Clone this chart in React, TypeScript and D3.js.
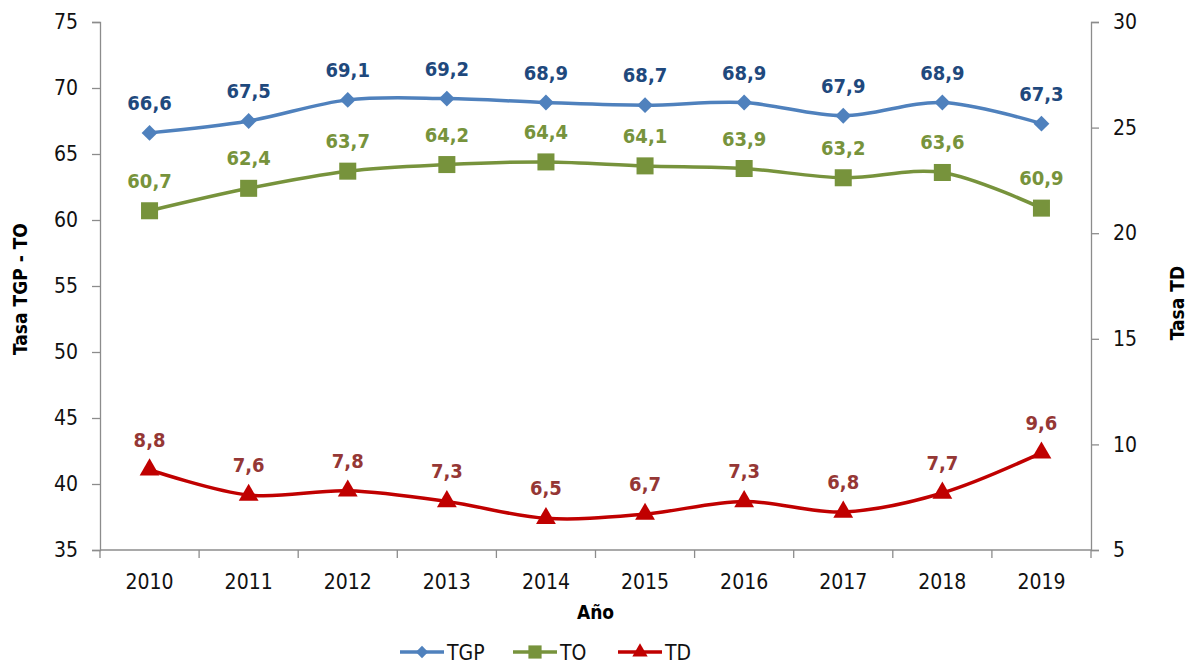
import React, { useEffect, useRef } from 'react';
import * as d3 from 'd3';

const years = ['2010', '2011', '2012', '2013', '2014', '2015', '2016', '2017', '2018', '2019'];
const tgp = [66.6, 67.5, 69.1, 69.2, 68.9, 68.7, 68.9, 67.9, 68.9, 67.3];
const to = [60.7, 62.4, 63.7, 64.2, 64.4, 64.1, 63.9, 63.2, 63.6, 60.9];
const td = [8.8, 7.6, 7.8, 7.3, 6.5, 6.7, 7.3, 6.8, 7.7, 9.6];
const leftTicks = [35, 40, 45, 50, 55, 60, 65, 70, 75];
const rightTicks = [5, 10, 15, 20, 25, 30];

const FONT = '"DejaVu Sans Condensed", "DejaVu Sans", sans-serif';

const App = () => {
    const ref = useRef<SVGSVGElement | null>(null);

    useEffect(() => {
        const svg = d3.select(ref.current);
        svg.selectAll('*').remove();

        const left = 100, right = 1091, top = 22, bottom = 550;

        const x = d3.scaleBand().domain(years).range([left, right]);
        const yL = d3.scaleLinear().domain([35, 75]).range([bottom, top]);
        const yR = d3.scaleLinear().domain([5, 30]).range([bottom, top]);
        const cx = (d: string) => (x(d) ?? 0) + x.bandwidth() / 2;

        const axisColor = '#8c8c8c';

        // left axis
        const gl = svg.append('g').attr('transform', `translate(${left},0)`)
            .call(d3.axisLeft(yL).tickValues(leftTicks).tickSize(8).tickPadding(14));
        // right axis
        const gr = svg.append('g').attr('transform', `translate(${right},0)`)
            .call(d3.axisRight(yR).tickValues(rightTicks).tickSize(8).tickPadding(14));
        // bottom axis: ticks at band boundaries
        const gb = svg.append('g').attr('transform', `translate(0,${bottom})`)
            .call(d3.axisBottom(x).tickSize(0).tickPadding(24));

        [gl, gr, gb].forEach(g => {
            g.select('.domain').attr('stroke', axisColor).attr('stroke-width', 1.3);
            g.selectAll('.tick line').attr('stroke', axisColor).attr('stroke-width', 1.3);
            g.selectAll('.tick text').attr('fill', '#111').attr('font-size', 21).attr('font-family', FONT);
        });
        gb.select('.domain').attr('d', `M${left},0H${right}`);

        const bounds = years.map(y => x(y) ?? 0).concat([right]);
        svg.append('g').selectAll('line').data(bounds).enter().append('line')
            .attr('x1', d => d).attr('x2', d => d)
            .attr('y1', bottom).attr('y2', bottom + 8)
            .attr('stroke', axisColor).attr('stroke-width', 1.3);

        // axis titles
        svg.append('text')
            .attr('transform', `translate(27,${(top + bottom) / 2 + 3}) rotate(-90)`)
            .attr('text-anchor', 'middle')
            .attr('font-family', FONT).attr('font-weight', 'bold').attr('font-size', 19)
            .text('Tasa TGP - TO');
        svg.append('text')
            .attr('transform', `translate(1184,${(top + bottom) / 2 + 17}) rotate(-90)`)
            .attr('text-anchor', 'middle')
            .attr('font-family', FONT).attr('font-weight', 'bold').attr('font-size', 19)
            .text('Tasa TD');
        svg.append('text')
            .attr('x', (left + right) / 2).attr('y', 619)
            .attr('text-anchor', 'middle')
            .attr('font-family', FONT).attr('font-weight', 'bold').attr('font-size', 19)
            .text('Año');

        const series = [
            { name: 'TGP', values: tgp, scale: yL, color: '#4F81BD', label: '#1F497D', symbol: d3.symbolDiamond2, size: 160 },
            { name: 'TO', values: to, scale: yL, color: '#77933C', label: '#77933C', symbol: d3.symbolSquare, size: 290 },
            { name: 'TD', values: td, scale: yR, color: '#C00000', label: '#953735', symbol: d3.symbolTriangle, size: 170 },
        ];

        series.forEach(s => {
            const line = d3.line<number>()
                .x((_, i) => cx(years[i]))
                .y(d => s.scale(d))
                .curve(d3.curveCatmullRom.alpha(0));
            svg.append('path')
                .attr('d', line(s.values) ?? '')
                .attr('fill', 'none')
                .attr('stroke', s.color)
                .attr('stroke-width', 3.5);

            const sym = d3.symbol().type(s.symbol).size(s.size);
            svg.append('g').selectAll('path').data(s.values).enter().append('path')
                .attr('transform', (d, i) => `translate(${cx(years[i])},${s.scale(d)})`)
                .attr('d', sym() ?? '')
                .attr('fill', s.color);

            svg.append('g').selectAll('text').data(s.values).enter().append('text')
                .attr('x', (_, i) => cx(years[i]))
                .attr('y', d => s.scale(d) - 23)
                .attr('text-anchor', 'middle')
                .attr('font-family', FONT).attr('font-weight', 'bold').attr('font-size', 20)
                .attr('fill', s.label)
                .text(d => d.toFixed(1).replace('.', ','));
        });

        // legend
        const legendX = [400, 513, 618];
        const lg = svg.append('g');
        series.forEach((s, i) => {
            const g = lg.append('g').attr('transform', `translate(${legendX[i]},652)`);
            g.append('line').attr('x1', 0).attr('x2', 44).attr('stroke', s.color).attr('stroke-width', 3.5);
            g.append('path').attr('transform', 'translate(22,0)')
                .attr('d', d3.symbol().type(s.symbol).size(s.size * 0.6)() ?? '')
                .attr('fill', s.color);
            g.append('text').attr('x', 47).attr('y', 8)
                .attr('font-family', FONT).attr('font-size', 21).attr('fill', '#111')
                .text(s.name);
        });
    }, []);

    return (
        <svg ref={ref} width={1192} height={664} style={{ position: 'absolute', left: 0, top: 0, background: '#fff' }} />
    );
};

export default App;
